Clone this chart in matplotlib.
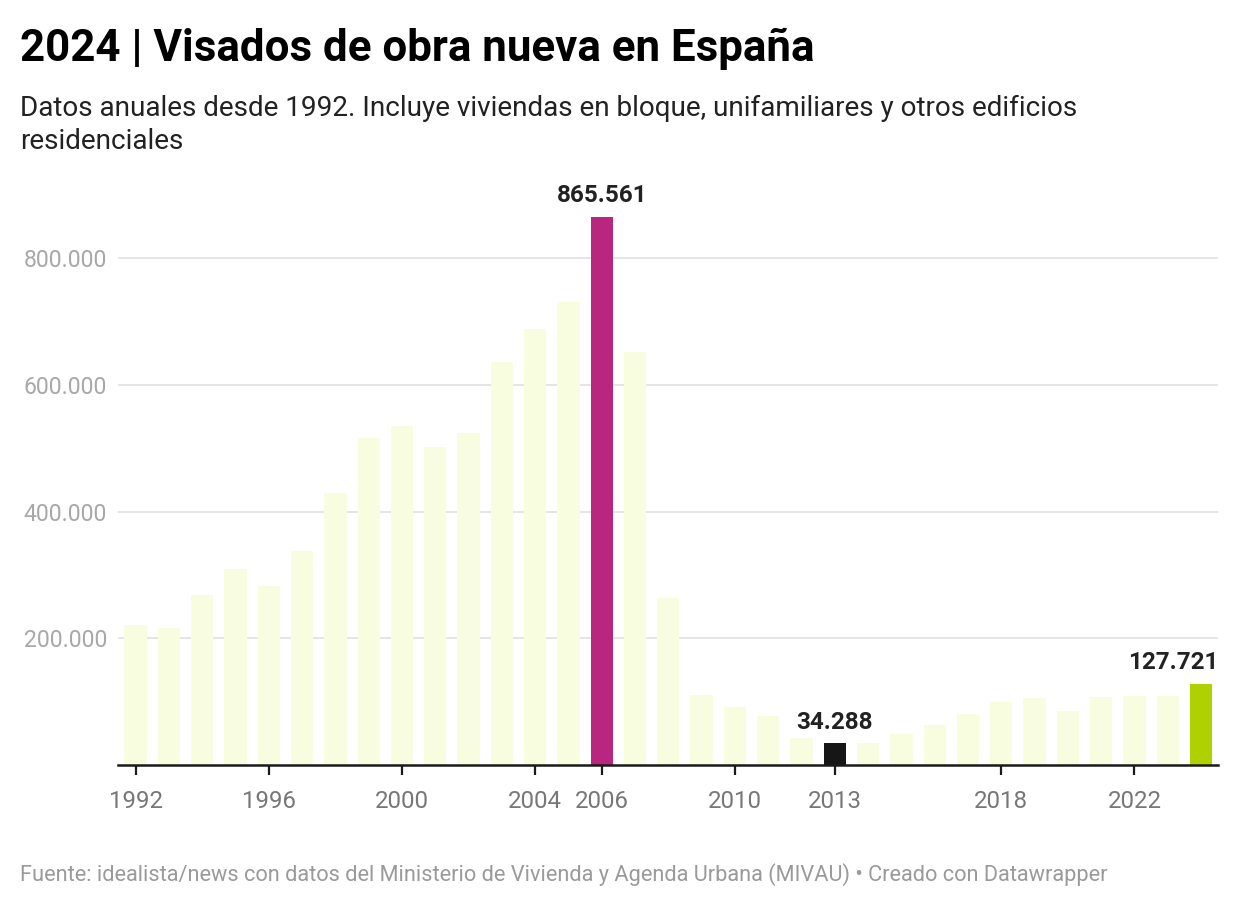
import matplotlib
matplotlib.use("Agg")
import matplotlib.pyplot as plt
from matplotlib.ticker import FuncFormatter

plt.rcParams['font.family'] = ['Roboto', 'DejaVu Sans']

# visados de obra nueva por año
years = list(range(1992, 2025))
visados = [
    221000, 216000, 268000, 309000, 283000, 338000, 429000, 516000,
    536000, 502000, 524000, 636000, 688000, 731000, 865561, 652000,
    264000, 110500, 91600, 77400, 43200, 34288, 34900, 49000,
    63000, 80500, 99500, 105800, 85300, 107400, 109000, 109400,
    127721,
]
tick_years = [1992, 1996, 2000, 2004, 2006, 2010, 2013, 2018, 2022]
y_ticks = [200000, 400000, 600000, 800000]
highlights = {2006: '#b8267f', 2013: '#161616', 2024: '#afd100'}
labelled = [2006, 2013, 2024]

base_color = '#f8fde0'
colors = [highlights.get(y, base_color) for y in years]


def fmt_es(v, pos=None):
    return f"{v:,.0f}".replace(',', '.')


fig = plt.figure(figsize=(12.4, 9.08), dpi=100, facecolor='white')
ax = fig.add_axes([118 / 1240, 1 - 765 / 908, 1100 / 1240, 570 / 908])

ax.bar(years, visados, width=0.67, color=colors, zorder=2)

ax.set_xlim(1991.47, 2024.51)
ax.set_ylim(0, 900000)

for s in ['top', 'right', 'left']:
    ax.spines[s].set_visible(False)
ax.spines['bottom'].set_color('#1a1a1a')
ax.spines['bottom'].set_linewidth(1.8)
ax.spines['bottom'].set_zorder(3)

ax.set_yticks(y_ticks)
ax.yaxis.set_major_formatter(FuncFormatter(fmt_es))
ax.tick_params(axis='y', length=0, pad=8, labelsize=16.6, labelcolor='#a8a8a8')
ax.grid(axis='y', color='#e3e3e3', linewidth=1.3, zorder=0)

ax.set_xticks(tick_years)
ax.set_xticklabels([str(y) for y in tick_years])
ax.tick_params(axis='x', length=7, width=1.6, color='#1a1a1a', pad=11,
               labelsize=17.3, labelcolor='#777777')

for y in labelled:
    v = visados[years.index(y)]
    if y == years[-1]:
        ax.annotate(fmt_es(v), (2024.51, v), xytext=(0, 7), textcoords='offset points',
                    ha='right', va='bottom', fontsize=17.5, fontweight='bold', color='#222222')
    else:
        ax.annotate(fmt_es(v), (y, v), xytext=(0, 7), textcoords='offset points',
                    ha='center', va='bottom', fontsize=17.5, fontweight='bold', color='#222222')

fig.text(20 / 1240, 1 - 61 / 908, "2024 | Visados de obra nueva en España",
         fontsize=31.6, fontweight='bold', color='#000000', va='baseline')
fig.text(20 / 1240, 1 - 116 / 908,
         "Datos anuales desde 1992. Incluye viviendas en bloque, unifamiliares y otros edificios",
         fontsize=20.1, color='#222222', va='baseline')
fig.text(20 / 1240, 1 - 149 / 908, "residenciales",
         fontsize=20.1, color='#222222', va='baseline')
fig.text(20 / 1240, 1 - 881 / 908,
         "Fuente: idealista/news con datos del Ministerio de Vivienda y Agenda Urbana (MIVAU) • Creado con Datawrapper",
         fontsize=15.7, color='#9a9a9a', va='baseline')

fig.savefig("out.png", dpi=100, facecolor='white')
